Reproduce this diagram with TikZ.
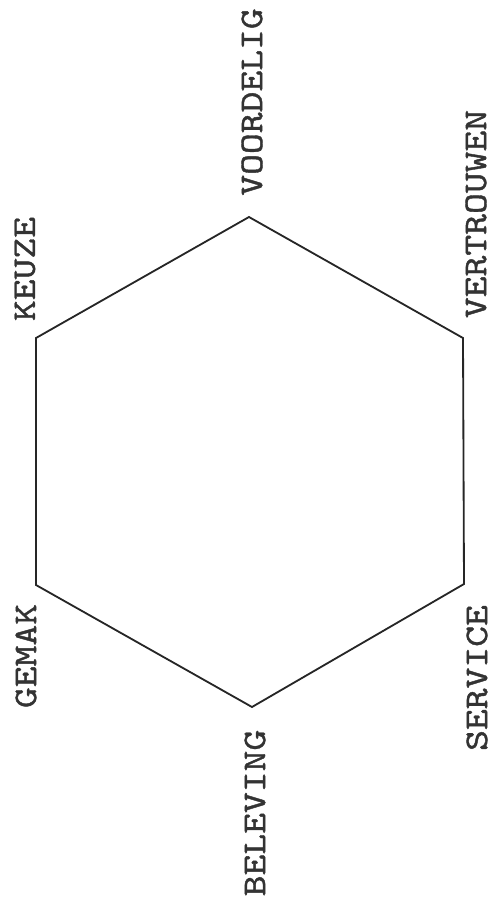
\documentclass[tikz,border=0pt]{standalone}
\usepackage{fontspec}
\newfontfamily\lblfont[FakeStretch=1.2, FakeBold=1.2]{lmmono10-regular.otf}
\begin{document}
\begin{tikzpicture}[
    x=0.025cm, y=-0.025cm,
    side/.style={draw=black!85, line width=1.3pt, line join=miter},
    label/.style={rotate=90, inner sep=0pt, text=black!80,
        font=\lblfont\fontsize{23.5}{28}\selectfont}
]
    \useasboundingbox (0, 0) rectangle (492, 910);

    % Hoeken
    \coordinate (top) at (249, 217);
    \coordinate (ur) at (463, 338);
    \coordinate (lr) at (464, 584);
    \coordinate (bot) at (252, 707);
    \coordinate (ll) at (36, 585);
    \coordinate (ul) at (36, 338);

    % Zeshoek
    \draw[side] (top) -- (ur) -- (lr) -- (bot) -- (ll) -- (ul) -- cycle;

    % Labels
    \node[label] (voordelig) at (252, 102) {VOORDELIG};
    \node[label] (vertrouwen) at (476, 214) {VERTROUWEN};
    \node[label] (keuze) at (25, 269) {KEUZE};
    \node[label] (gemak) at (26, 656) {GEMAK};
    \node[label] (beleving) at (255, 813) {BELEVING};
    \node[label] (service) at (477, 678) {SERVICE};

\end{tikzpicture}
\end{document}
